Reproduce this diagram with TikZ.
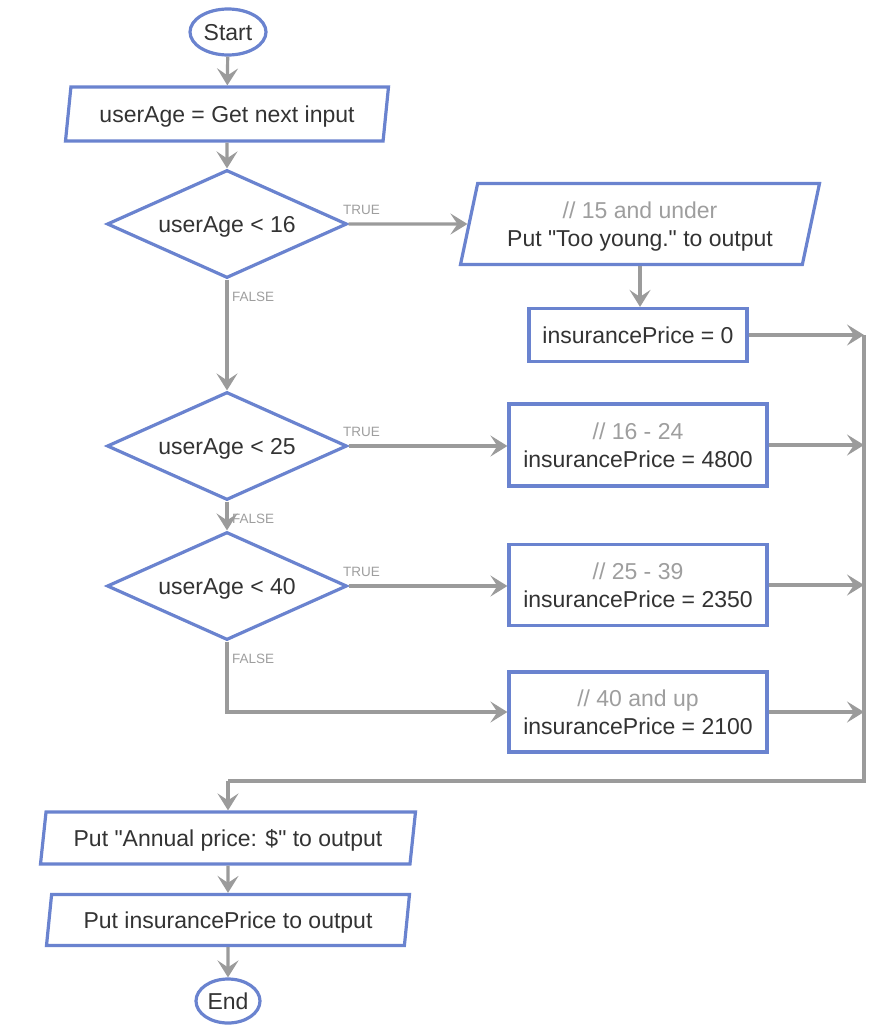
\documentclass[tikz,border=0pt]{standalone}
\usepackage{fontspec}
\setmainfont{Liberation Sans}[Ligatures=TeXOff]
\usetikzlibrary{shapes.geometric,arrows.meta}
\definecolor{fcblue}{HTML}{6A83CF}
\definecolor{fcgray}{HTML}{9B9B9B}
\definecolor{fctext}{HTML}{333333}
\definecolor{fccomment}{HTML}{9E9E9E}
\begin{document}
\begin{tikzpicture}[x=1pt,y=-1pt,
  base/.style={draw=fcblue,line width=3.2pt,fill=white,text=fctext,
    font=\fontsize{23}{28}\selectfont,align=center,inner sep=0pt,text depth=0pt},
  term/.style={base,ellipse},
  io/.style 2 args={base,trapezium,trapezium stretches body,
    trapezium left angle=#1,trapezium right angle=#2},
  proc/.style={base,rectangle},
  decision/.style={base,diamond,aspect=2.22,minimum width=240pt,minimum height=108pt},
  conn/.style={draw=fcgray,line width=3.2pt,
    -{Stealth[length=17pt,width=21pt,inset=7pt]}},
  plain/.style={draw=fcgray,line width=3.2pt},
  lbl/.style={text=fccomment,font=\fontsize{13.5}{15}\selectfont,inner sep=0pt,anchor=west},
]
\useasboundingbox (0,0) rectangle (890,1036);

% nodes
\node[term,minimum width=76pt,minimum height=46pt] (start) at (228,32) {Start};
\node[io={72}{108},minimum width=323pt,minimum height=54pt] (in1) at (227,114) {userAge = Get next input};
\node[decision] (d1) at (227,224) {userAge < 16};
\node[io={69}{111},minimum width=359pt,minimum height=81pt] (p2) at (640,224)
  {{\color{fccomment}// 15 and under}\\Put "Too young." to output};
\node[proc,minimum width=218pt,minimum height=53pt] (b0) at (638,335) {insurancePrice = 0};
\node[decision] (d2) at (227,446) {userAge < 25};
\node[proc,minimum width=258pt,minimum height=82pt] (b1) at (638,445)
  {{\color{fccomment}// 16 - 24}\\insurancePrice = 4800};
\node[decision] (d3) at (227,586) {userAge < 40};
\node[proc,minimum width=258pt,minimum height=81pt] (b2) at (638,585)
  {{\color{fccomment}// 25 - 39}\\insurancePrice = 2350};
\node[proc,minimum width=258pt,minimum height=80pt] (b3) at (638,712)
  {{\color{fccomment}// 40 and up}\\insurancePrice = 2100};
\node[io={72}{108},minimum width=375pt,minimum height=52pt] (out1) at (228,838) {Put "Annual price: \$" to output};
\node[io={73}{107},minimum width=363pt,minimum height=51pt] (out2) at (228,920) {Put insurancePrice to output};
\node[term,minimum width=64pt,minimum height=44pt] (end) at (228,1001) {End};

% rail coordinates
\coordinate (r0) at (864,335);
\coordinate (r1) at (864,445);
\coordinate (r2) at (864,585);
\coordinate (r3) at (864,712);
\coordinate (rb) at (864,781);
\coordinate (mg) at (228,781);

% labels
\node[lbl] (t1) at (343,210) {TRUE};
\node[lbl] (f1) at (232,297) {FALSE};
\node[lbl] (t2) at (343,432) {TRUE};
\node[lbl] (f2) at (232,519) {FALSE};
\node[lbl] (t3) at (343,572) {TRUE};
\node[lbl] (f3) at (232,659) {FALSE};

% connectors
\draw[conn] (start) -- (in1);
\draw[conn] (in1) -- (d1);
\draw[conn] (d1.east) -- (p2);
\draw[conn] (p2.south) -- (p2.south |- b0.north);
\draw[conn] (d1) -- (d2);
\draw[conn] (d2.east) -- (d2.east -| b1.west);
\draw[conn] (d2) -- (d3);
\draw[conn] (d3.east) -- (d3.east -| b2.west);
\draw[conn] (d3.south) |- (b3.west);
\draw[conn] (b0.east) -- (r0);
\draw[conn] (b1.east) -- (r1);
\draw[conn] (b2.east) -- (r2);
\draw[conn] (b3.east) -- (r3);
\draw[plain] (r0) -- (rb) -- (mg);
\draw[conn] (mg) -- (out1);
\draw[conn] (out1) -- (out2);
\draw[conn] (out2) -- (end);
\end{tikzpicture}
\end{document}
